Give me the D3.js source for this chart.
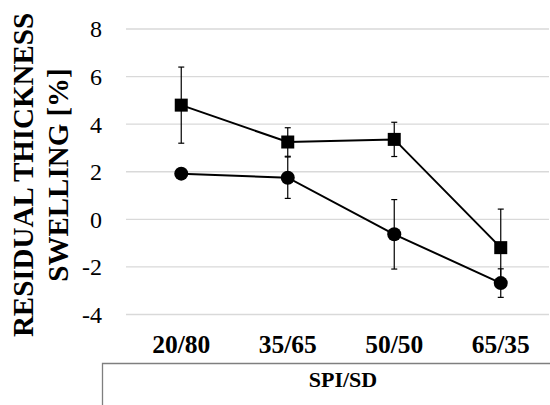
<!DOCTYPE html>
<meta charset="utf-8">
<title>Residual thickness swelling</title>
<style>
  body { margin: 0; background: #fff; }
</style>
<div id="viz"></div>
<script src="https://cdnjs.cloudflare.com/ajax/libs/d3/7.8.5/d3.min.js"></script>
<script>

var categories = ["20/80", "35/65", "50/50", "65/35"];
var yTicks = [-4, -2, 0, 2, 4, 6, 8];

// square series
var squareVals = [4.8, 3.25, 3.36, -1.19];
var squareErr = [1.6, 0.6, 0.72, 1.62];
// circle series
var circleVals = [1.92, 1.75, -0.63, -2.68];
var circleErr = [0.05, 0.87, 1.46, 0.6];

var width = 550;
var height = 405;

var svg = d3.select("#viz")
  .append("svg")
  .attr("width", width)
  .attr("height", height)
  .attr("font-family", "'Liberation Serif', 'Times New Roman', serif");

var x = d3.scalePoint()
  .domain(categories)
  .range([128, 554])
  .padding(0.5);

var y = d3.scaleLinear()
  .domain([-4, 8])
  .range([314.5, 29]);

// gridlines
svg.append("g")
  .selectAll("line")
  .data(yTicks)
  .enter().append("line")
  .attr("x1", 126)
  .attr("x2", 549)
  .attr("y1", function(d) { return y(d); })
  .attr("y2", function(d) { return y(d); })
  .attr("stroke", "#d9d9d9")
  .attr("stroke-width", 1.3);

// y tick labels
svg.append("g")
  .selectAll("text")
  .data(yTicks)
  .enter().append("text")
  .attr("x", 102)
  .attr("y", function(d) { return y(d); })
  .attr("dy", "0.35em")
  .attr("text-anchor", "end")
  .attr("font-size", "24px")
  .text(function(d) { return d; });

// x category labels
svg.append("g")
  .selectAll("text")
  .data(categories)
  .enter().append("text")
  .attr("x", function(d) { return x(d); })
  .attr("y", 353)
  .attr("text-anchor", "middle")
  .attr("font-size", "25.5px")
  .attr("font-weight", "bold")
  .text(function(d) { return d; });

// axis title box
svg.append("path")
  .attr("d", "M102.5,405 V363.5 H550")
  .attr("fill", "none")
  .attr("stroke", "#7f7f7f")
  .attr("stroke-width", 1.3);

svg.append("text")
  .attr("x", 343)
  .attr("y", 387)
  .attr("text-anchor", "middle")
  .attr("font-size", "22px")
  .attr("font-weight", "bold")
  .text("SPI/SD");

// y title
var yt = svg.append("text")
  .attr("transform", "translate(0,175) rotate(-90)")
  .attr("text-anchor", "middle")
  .attr("font-size", "29px")
  .attr("font-weight", "bold");
yt.append("tspan").attr("x", 0).attr("y", 33).text("RESIDUAL THICKNESS");
yt.append("tspan").attr("x", 0).attr("y", 68).text("SWELLING [%]");

function drawSeries(vals, errs, shape) {
  var g = svg.append("g");
  var line = d3.line()
    .x(function(d, i) { return x(categories[i]); })
    .y(function(d) { return y(d); });

  // error bars
  vals.forEach(function(v, i) {
    var cx = x(categories[i]);
    var e = errs[i];
    g.append("line")
      .attr("x1", cx).attr("x2", cx)
      .attr("y1", y(v + e)).attr("y2", y(v - e))
      .attr("stroke", "#000").attr("stroke-width", 1.2);
    [v + e, v - e].forEach(function(w) {
      g.append("line")
        .attr("x1", cx - 3).attr("x2", cx + 3)
        .attr("y1", y(w)).attr("y2", y(w))
        .attr("stroke", "#000").attr("stroke-width", 1.2);
    });
  });

  g.append("path")
    .datum(vals)
    .attr("d", line)
    .attr("fill", "none")
    .attr("stroke", "#000")
    .attr("stroke-width", 2);

  if (shape == "square") {
    g.selectAll("rect")
      .data(vals)
      .enter().append("rect")
      .attr("x", function(d, i) { return x(categories[i]) - 6.5; })
      .attr("y", function(d) { return y(d) - 6.5; })
      .attr("width", 13)
      .attr("height", 13)
      .attr("fill", "#000");
  } else {
    g.selectAll("circle")
      .data(vals)
      .enter().append("circle")
      .attr("cx", function(d, i) { return x(categories[i]); })
      .attr("cy", function(d) { return y(d); })
      .attr("r", 7)
      .attr("fill", "#000");
  }
}

drawSeries(squareVals, squareErr, "square");
drawSeries(circleVals, circleErr, "circle");

</script>
